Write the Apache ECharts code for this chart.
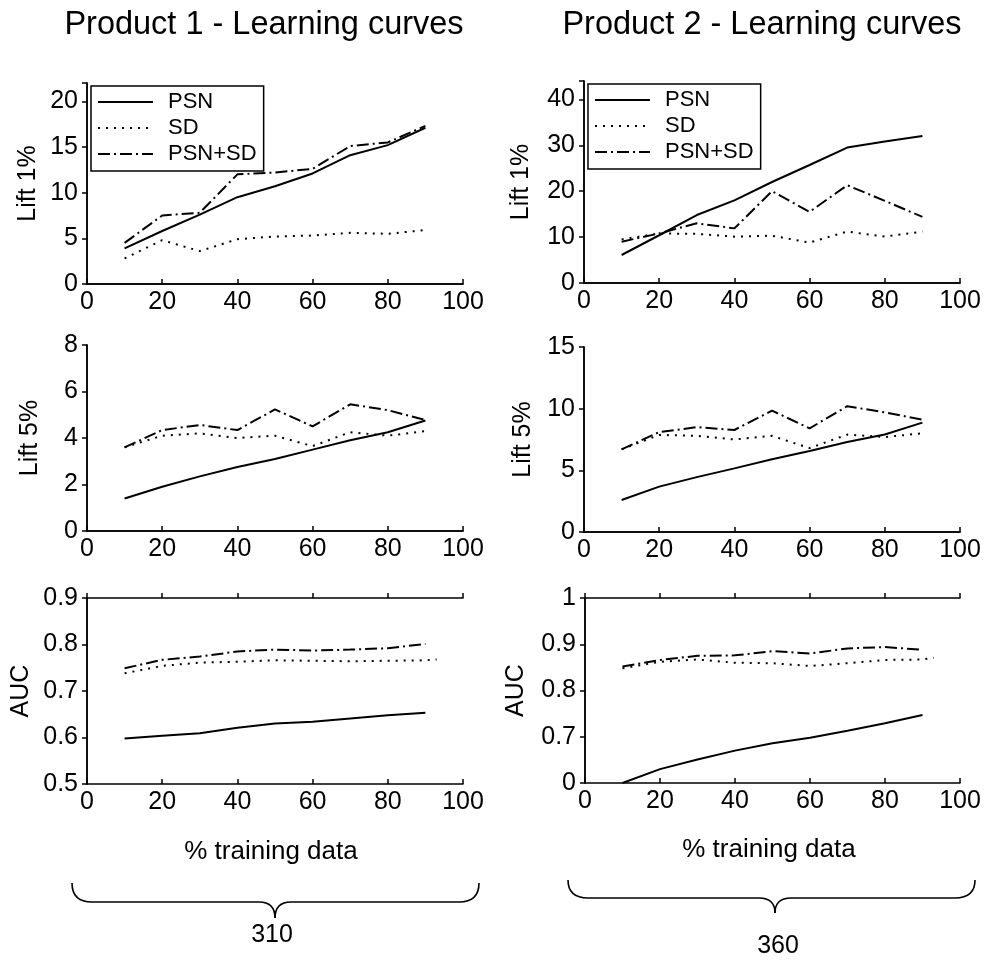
<!DOCTYPE html>
<html>
<head>
<meta charset="utf-8">
<script src="https://cdn.jsdelivr.net/npm/echarts@6/dist/echarts.min.js"></script>
<style>
  html, body { margin: 0; padding: 0; background: #fff; }
  #chart { width: 984px; height: 972px; }
</style>
</head>
<body>
<div id="chart"></div>
<script>
// Share of the training set used (%), x positions of every curve
const pct = [10, 20, 30, 40, 50, 60, 70, 80, 90];
// The SD AUC runs carry one more point at the end
const pctSdAuc = [10, 20, 30, 40, 50, 60, 70, 80, 90, 93];

const seriesNames = ['PSN', 'SD', 'PSN+SD'];

// Product 1
const p1Lift1Psn  = [3.9, 5.8, 7.6, 9.5, 10.7, 12.1, 14.1, 15.2, 17.1];
const p1Lift1Sd   = [2.8, 4.8, 3.6, 4.9, 5.2, 5.3, 5.6, 5.5, 5.9];
const p1Lift1Both = [4.5, 7.5, 7.8, 12.0, 12.2, 12.6, 15.1, 15.5, 17.3];

const p1Lift5Psn  = [1.4, 1.9, 2.35, 2.75, 3.1, 3.5, 3.9, 4.25, 4.75];
const p1Lift5Sd   = [3.6, 4.1, 4.2, 4.0, 4.1, 3.65, 4.25, 4.1, 4.3];
const p1Lift5Both = [3.6, 4.34, 4.56, 4.34, 5.23, 4.5, 5.45, 5.2, 4.77];

const p1AucPsn  = [0.598, 0.604, 0.609, 0.621, 0.630, 0.634, 0.641, 0.648, 0.653];
const p1AucSd   = [0.738, 0.754, 0.761, 0.763, 0.766, 0.765, 0.764, 0.765, 0.766, 0.768];
const p1AucBoth = [0.749, 0.767, 0.774, 0.785, 0.789, 0.787, 0.789, 0.792, 0.801];

// Product 2
const p2Lift1Psn  = [6.1, 10.4, 14.8, 18.0, 22.0, 25.7, 29.5, 30.8, 32.0];
const p2Lift1Sd   = [9.5, 10.8, 10.7, 10.1, 10.3, 8.8, 11.2, 10.1, 11.2];
const p2Lift1Both = [9.0, 10.8, 13.0, 11.9, 20.0, 15.5, 21.3, 17.9, 14.4];

const p2Lift5Psn  = [2.6, 3.68, 4.45, 5.16, 5.9, 6.57, 7.3, 7.9, 8.87];
const p2Lift5Sd   = [6.7, 7.87, 7.8, 7.5, 7.8, 6.8, 7.9, 7.7, 8.0];
const p2Lift5Both = [6.7, 8.1, 8.5, 8.27, 9.84, 8.4, 10.2, 9.7, 9.1];

const p2AucPsn  = [0.600, 0.630, 0.651, 0.670, 0.686, 0.698, 0.713, 0.729, 0.747];
const p2AucSd   = [0.848, 0.862, 0.867, 0.860, 0.859, 0.853, 0.859, 0.866, 0.867, 0.871];
const p2AucBoth = [0.852, 0.866, 0.875, 0.876, 0.885, 0.880, 0.891, 0.894, 0.888];

// Tick labels of the Product 2 AUC axis, bottom to top
const p2AucTickLabels = ['0', '0.7', '0.8', '0.9', '1'];

const titles = ['Product 1 - Learning curves', 'Product 2 - Learning curves'];
const xAxisTitle = '% training data';
const groupLabels = ['310', '360'];

const FONT = '"Liberation Sans", Arial, Helvetica, sans-serif';
const BLACK = '#000';

const lineStyles = {
  'PSN':    { color: BLACK, width: 2, type: 'solid' },
  'SD':     { color: BLACK, width: 2, type: [2, 6] },
  'PSN+SD': { color: BLACK, width: 2, type: [12, 4, 2, 4] }
};

const panels = [
  { rect: [87, 83, 376, 201],  min: 0,   max: 22, step: 5,   name: 'Lift 1%', gap: 46,
    vals: [p1Lift1Psn, p1Lift1Sd, p1Lift1Both], sdX: pct, legend: true, hideMax: true },
  { rect: [584, 81, 376, 202], min: 0,   max: 44, step: 10,  name: 'Lift 1%', gap: 50,
    vals: [p2Lift1Psn, p2Lift1Sd, p2Lift1Both], sdX: pct, legend: true, hideMax: true },
  { rect: [87, 345, 376, 186], min: 0,   max: 8,  step: 2,   name: 'Lift 5%', gap: 44,
    vals: [p1Lift5Psn, p1Lift5Sd, p1Lift5Both], sdX: pct },
  { rect: [584, 347, 376, 185], min: 0,  max: 15, step: 5,   name: 'Lift 5%', gap: 48,
    vals: [p2Lift5Psn, p2Lift5Sd, p2Lift5Both], sdX: pct },
  { rect: [87, 598, 376, 186], min: 0.5, max: 0.9, step: 0.1, name: 'AUC', gap: 53,
    vals: [p1AucPsn, p1AucSd, p1AucBoth], sdX: pctSdAuc,
    fmt: v => v.toFixed(1) },
  { rect: [585, 598, 375, 185], min: 0.6, max: 1.0, step: 0.1, name: 'AUC', gap: 56,
    vals: [p2AucPsn, p2AucSd, p2AucBoth], sdX: pctSdAuc,
    fmt: v => p2AucTickLabels[Math.round((v - 0.6) / 0.1)] }
];

const axisLine = { show: true, lineStyle: { color: BLACK, width: 1.5 } };
const tickStyle = { color: BLACK, width: 1.5 };
const labelText = { color: BLACK, fontSize: 25, fontFamily: FONT };

const grid = [], xAxis = [], yAxis = [], series = [], legend = [];

panels.forEach((p, i) => {
  grid.push({ left: p.rect[0], top: p.rect[1], width: p.rect[2], height: p.rect[3], containLabel: false });

  // bottom axis with labels, ticks pointing in; top edge with outward ticks
  xAxis.push({
    type: 'value', gridIndex: i, position: 'bottom', min: 0, max: 100, interval: 20,
    axisLine, splitLine: { show: false },
    axisTick: { show: true, inside: true, length: 5, lineStyle: tickStyle },
    axisLabel: Object.assign({ margin: 6 }, labelText)
  });
  xAxis.push({
    type: 'value', gridIndex: i, position: 'top', min: 0, max: 100, interval: 20,
    axisLine, splitLine: { show: false },
    axisTick: { show: true, inside: false, length: 5, lineStyle: tickStyle },
    axisLabel: { show: false }
  });

  // left axis with labels and name, ticks pointing out; right edge with inward ticks
  yAxis.push({
    type: 'value', gridIndex: i, position: 'left', min: p.min, max: p.max, interval: p.step,
    name: p.name, nameLocation: 'middle', nameRotate: 90, nameGap: p.gap,
    nameTextStyle: { color: BLACK, fontSize: 25, fontFamily: FONT },
    axisLine, splitLine: { show: false },
    axisTick: { show: true, inside: false, length: 5, lineStyle: tickStyle },
    axisLabel: Object.assign({ margin: 9, showMaxLabel: !p.hideMax,
      formatter: p.fmt || (v => String(v)) }, labelText)
  });
  yAxis.push({
    type: 'value', gridIndex: i, position: 'right', min: p.min, max: p.max, interval: p.step,
    axisLine, splitLine: { show: false },
    axisTick: { show: true, inside: true, length: 5, lineStyle: tickStyle },
    axisLabel: { show: false }
  });

  seriesNames.forEach((nm, k) => {
    const xs = nm === 'SD' ? p.sdX : pct;
    series.push({
      type: 'line', name: nm, xAxisIndex: 2 * i, yAxisIndex: 2 * i,
      symbol: 'none', showSymbol: false, smooth: false,
      lineStyle: lineStyles[nm], itemStyle: { color: BLACK },
      data: xs.map((x, j) => [x, p.vals[k][j]]),
      z: 3 - k * 0.1
    });
  });

  if (p.legend) {
    legend.push({
      left: p.rect[0] + 4, top: p.rect[1] + 3, orient: 'vertical',
      data: seriesNames, selectedMode: false,
      itemWidth: 55, itemHeight: 14, itemGap: 4,
      padding: [5, 7, 6, 6],
      borderColor: BLACK, borderWidth: 1.5, borderRadius: 0, backgroundColor: '#fff',
      // legend keys show only the line pattern, no marker
      itemStyle: { opacity: 0, borderWidth: 0 },
      textStyle: { color: BLACK, fontSize: 22, fontFamily: FONT, lineHeight: 22, padding: [0, 0, 0, 10] },
      z: 10
    });
  }
});

// Titles, axis captions, and the braces grouping each product column
const graphic = [];
const colCenters = [264, 762];
titles.forEach((t, i) => graphic.push({
  type: 'text', x: colCenters[i], y: 25,
  style: { text: t, fill: BLACK, font: '32.5px ' + FONT, align: 'center', verticalAlign: 'middle' }
}));
[[271, 852], [769, 850]].forEach(([x, y]) => graphic.push({
  type: 'text', x, y,
  style: { text: xAxisTitle, fill: BLACK, font: '26px ' + FONT, align: 'center', verticalAlign: 'middle' }
}));
[[272, 935], [778, 946]].forEach(([x, y], i) => graphic.push({
  type: 'text', x, y,
  style: { text: groupLabels[i], fill: BLACK, font: '25px ' + FONT, align: 'center', verticalAlign: 'middle' }
}));

// A curly brace: rounded ends, long flat runs, and a downward point in the middle
function brace(x0, x1, yTop, yMid, xTip, yTip) {
  const st = { fill: 'none', stroke: BLACK, lineWidth: 1.6 };
  const curve = (a, b, c, d, cx, cy) => ({
    type: 'bezierCurve', shape: { x1: a, y1: b, x2: c, y2: d, cpx1: cx, cpy1: cy }, style: st
  });
  const seg = (a, b, c, d) => ({ type: 'line', shape: { x1: a, y1: b, x2: c, y2: d }, style: st });
  return [
    curve(x0, yTop, x0 + 20, yMid, x0, yMid),
    seg(x0 + 20, yMid, xTip - 16, yMid),
    curve(xTip - 16, yMid, xTip, yTip, xTip, yMid),
    curve(xTip, yTip, xTip + 16, yMid, xTip, yMid),
    seg(xTip + 16, yMid, x1 - 20, yMid),
    curve(x1 - 20, yMid, x1, yTop, x1, yMid)
  ];
}
graphic.push(...brace(72, 479, 883, 902, 275, 918));
graphic.push(...brace(568, 975, 880, 898, 775, 913));

const chart = echarts.init(document.getElementById('chart'), null, { renderer: 'canvas' });
chart.setOption({
  animation: false,
  backgroundColor: '#fff',
  textStyle: { fontFamily: FONT },
  grid, xAxis, yAxis, series, legend, graphic
});
</script>
</body>
</html>
